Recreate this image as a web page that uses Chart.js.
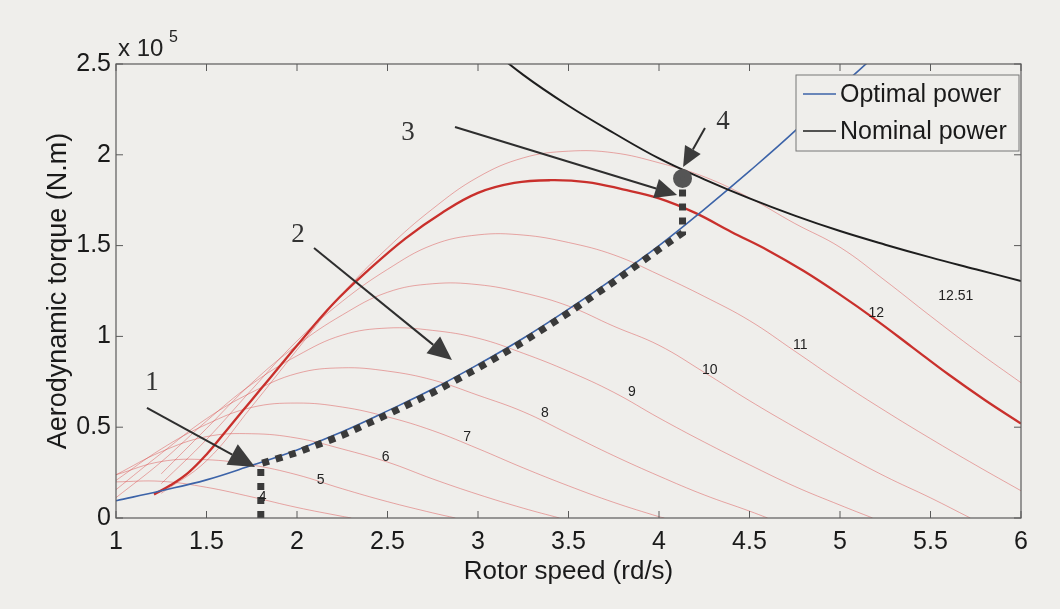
<!DOCTYPE html>
<html>
<head>
<meta charset="utf-8">
<title>Aerodynamic torque vs rotor speed</title>
<script src="https://cdn.jsdelivr.net/npm/chart.js@4.4.1/dist/chart.umd.min.js"></script>
<style>
    html, body { margin: 0; padding: 0; background: #efeeeb; }
    #wrap { width: 1060px; height: 609px; }
</style>
</head>
<body>
<div id="wrap"><canvas id="torqueChart" width="1060" height="609"></canvas></div>
<script>
// rotor speed grid (rd/s) shared by the wind speed curves
const speedGrid = [1, 1.25, 1.5, 1.75, 2, 2.25, 2.5, 2.75, 3, 3.25, 3.5, 3.75, 4, 4.25, 4.5, 4.75, 5, 5.25, 5.5, 5.75, 6];

// wind speed (m/s) of each thin curve
const windLabels = ['4', '5', '6', '7', '8', '9', '10', '11', '12.51'];

// aerodynamic torque (x 10^5 N.m) on speedGrid, null = no value
const torqueV4 = [0.199, 0.202, 0.169, 0.116, 0.058, 0.009, null, null, null, null, null, null, null, null, null, null, null, null, null, null, null];
const torqueV5 = [0.238, 0.311, 0.321, 0.292, 0.238, 0.161, 0.090, 0.028, null, null, null, null, null, null, null, null, null, null, null, null, null];
const torqueV6 = [0.238, 0.365, 0.448, 0.464, 0.440, 0.380, 0.308, 0.215, 0.130, 0.054, null, null, null, null, null, null, null, null, null, null, null];
const torqueV7 = [0.207, 0.380, 0.516, 0.609, 0.633, 0.611, 0.557, 0.481, 0.382, 0.276, 0.177, 0.086, 0.007, null, null, null, null, null, null, null, null];
const torqueV8 = [0.156, 0.356, 0.547, 0.692, 0.796, 0.827, 0.809, 0.760, 0.676, 0.585, 0.464, 0.343, 0.231, 0.127, 0.038, null, null, null, null, null, null];
const torqueV9 = [0.112, 0.309, 0.534, 0.737, 0.893, 1.007, 1.046, 1.033, 0.990, 0.907, 0.808, 0.692, 0.551, 0.418, 0.293, 0.174, 0.071, null, null, null, null];
const torqueV10 = [null, 0.243, 0.493, 0.743, 0.951, 1.118, 1.243, 1.290, 1.285, 1.240, 1.167, 1.056, 0.951, 0.802, 0.646, 0.500, 0.361, 0.229, 0.111, null, null];
const torqueV11 = [null, 0.189, 0.432, 0.707, 0.975, 1.193, 1.369, 1.504, 1.559, 1.558, 1.517, 1.449, 1.340, 1.220, 1.087, 0.919, 0.749, 0.589, 0.437, 0.291, 0.150];
const torqueV1251 = [null, 0.136, 0.315, 0.614, 0.926, 1.234, 1.487, 1.703, 1.877, 1.983, 2.020, 2.011, 1.956, 1.879, 1.763, 1.622, 1.491, 1.307, 1.112, 0.923, 0.745];

// speed where each thin curve reaches zero torque
const zeroCross = [2.3, 2.875, 3.45, 4.03, 4.6, 5.18, 5.72, null, null];

// thick curve (12 m/s)
const thickSpeed = [1.21, 1.3, 1.4, 1.5, 1.6, 1.7, 1.8, 1.9, 2, 2.2, 2.4, 2.6, 2.8, 3, 3.2, 3.4, 3.6, 3.8, 4, 4.2, 4.4, 4.6, 4.8, 5, 5.2, 5.4, 5.6, 5.8, 6];
const thickTorque = [0.13, 0.18, 0.25, 0.35, 0.47, 0.59, 0.71, 0.83, 0.95, 1.18, 1.37, 1.54, 1.68, 1.79, 1.845, 1.86, 1.85, 1.81, 1.76, 1.68, 1.575, 1.475, 1.36, 1.23, 1.09, 0.94, 0.79, 0.65, 0.52];

// optimal power curve on speedGrid
const optimalTorque = [0.095, 0.15, 0.21, 0.29, 0.375, 0.475, 0.59, 0.71, 0.845, 0.99, 1.15, 1.32, 1.50, 1.70, 1.91, 2.13, 2.37, 2.60, 2.86, 3.13, 3.40];

// nominal power curve
const nominalSpeed = [3, 3.25, 3.5, 3.75, 4, 4.25, 4.5, 4.75, 5, 5.25, 5.5, 5.75, 6];
const nominalTorque = [2.64, 2.44, 2.27, 2.12, 1.98, 1.865, 1.76, 1.665, 1.58, 1.505, 1.435, 1.37, 1.305];

// operating trajectory (dotted)
const pathSpeed = [1.8, 1.8, 2, 2.25, 2.5, 2.75, 3, 3.25, 3.5, 3.75, 4, 4.13, 4.13];
const pathTorque = [0, 0.30, 0.36, 0.455, 0.57, 0.69, 0.825, 0.97, 1.13, 1.30, 1.48, 1.57, 1.87];

// curve labels (wind speed) placed on the curves
const curveLabelText = ['4', '5', '6', '7', '8', '9', '10', '11', '12', '12.51'];
const curveLabelX = [1.81, 2.13, 2.49, 2.94, 3.37, 3.85, 4.28, 4.78, 5.2, 5.64];
const curveLabelY = [0.115, 0.21, 0.336, 0.446, 0.578, 0.694, 0.815, 0.953, 1.13, 1.22];

// numbered arrows
const arrowNotes = [
    { text: '1', lx: 1.199, ly: 0.743, x0: 1.171, y0: 0.606, x1: 1.768, y1: 0.281, head: 26 },
    { text: '2', lx: 2.006, ly: 1.558, x0: 2.094, y0: 1.487, x1: 2.856, y1: 0.870, head: 24 },
    { text: '3', lx: 2.613, ly: 2.120, x0: 2.873, y0: 2.153, x1: 4.100, y1: 1.779, head: 22 },
    { text: '4', lx: 4.354, ly: 2.180, x0: 4.254, y0: 2.148, x1: 4.133, y1: 1.933, head: 20 }
];

const sansFont = "'Liberation Sans', Arial, sans-serif";
const serifFont = "'Liberation Serif', 'Times New Roman', serif";

function toPoints(xs, ys) {
    return xs.map((x, i) => ({ x: x, y: ys[i] })).filter(p => p.y !== null);
}

const datasets = [];

// dotted operating path on top
datasets.push({
    label: 'path',
    data: toPoints(pathSpeed, pathTorque),
    borderColor: '#3a3a3a',
    borderWidth: 7,
    borderDash: [7, 7],
    borderCapStyle: 'butt',
    tension: 0,
    pointRadius: pathSpeed.map((s, i) => i === pathSpeed.length - 1 ? 6 : 0),
    pointBackgroundColor: '#555',
    pointBorderColor: '#555',
    order: 1
});

datasets.push({
    label: 'Nominal power',
    data: toPoints(nominalSpeed, nominalTorque),
    borderColor: '#1e1e1e',
    borderWidth: 2,
    pointRadius: 0,
    tension: 0.4,
    order: 2
});

datasets.push({
    label: 'Optimal power',
    data: toPoints(speedGrid, optimalTorque),
    borderColor: '#3c63a8',
    borderWidth: 1.6,
    pointRadius: 0,
    tension: 0.4,
    order: 3
});

datasets.push({
    label: '12',
    data: toPoints(thickSpeed, thickTorque),
    borderColor: '#c9302c',
    borderWidth: 2.3,
    pointRadius: 0,
    tension: 0.4,
    order: 4
});

const windCurves = [torqueV4, torqueV5, torqueV6, torqueV7, torqueV8, torqueV9, torqueV10, torqueV11, torqueV1251];
windCurves.forEach(function (vals, i) {
    const pts = toPoints(speedGrid, vals);
    if (zeroCross[i] !== null) pts.push({ x: zeroCross[i], y: 0 });
    datasets.push({
        label: windLabels[i],
        data: pts,
        borderColor: 'rgba(218, 70, 70, 0.45)',
        borderWidth: 1,
        pointRadius: 0,
        tension: 0.4,
        order: 5
    });
});

// paper background
const paperPlugin = {
    id: 'paper',
    beforeDraw(chart) {
        const c = chart.ctx;
        c.save();
        c.fillStyle = '#efeeeb';
        c.fillRect(0, 0, chart.width, chart.height);
        c.restore();
    }
};

// box and inward ticks like the original plot
const framePlugin = {
    id: 'frame',
    afterDatasetsDraw(chart) {
        const c = chart.ctx;
        const a = chart.chartArea;
        const xs = chart.scales.x;
        const ys = chart.scales.y;
        c.save();
        c.strokeStyle = '#5a5a5a';
        c.lineWidth = 1.2;
        c.strokeRect(a.left, a.top, a.right - a.left, a.bottom - a.top);
        c.lineWidth = 1;
        xs.ticks.forEach(t => {
            const px = xs.getPixelForValue(t.value);
            c.beginPath();
            c.moveTo(px, a.bottom); c.lineTo(px, a.bottom - 7);
            c.moveTo(px, a.top); c.lineTo(px, a.top + 7);
            c.stroke();
        });
        ys.ticks.forEach(t => {
            const py = ys.getPixelForValue(t.value);
            c.beginPath();
            c.moveTo(a.left, py); c.lineTo(a.left + 7, py);
            c.moveTo(a.right, py); c.lineTo(a.right - 7, py);
            c.stroke();
        });
        c.restore();
    }
};

// arrows, numbers, curve labels and the exponent
const notesPlugin = {
    id: 'notes',
    afterDraw(chart) {
        const c = chart.ctx;
        const xs = chart.scales.x;
        const ys = chart.scales.y;
        const a = chart.chartArea;
        c.save();

        // wind speed labels
        c.fillStyle = '#222';
        c.font = '14px ' + sansFont;
        c.textAlign = 'center';
        c.textBaseline = 'middle';
        curveLabelText.forEach((t, i) => {
            c.fillText(t, xs.getPixelForValue(curveLabelX[i]), ys.getPixelForValue(curveLabelY[i]));
        });

        // numbered arrows
        arrowNotes.forEach(n => {
            const x0 = xs.getPixelForValue(n.x0), y0 = ys.getPixelForValue(n.y0);
            const x1 = xs.getPixelForValue(n.x1), y1 = ys.getPixelForValue(n.y1);
            const ang = Math.atan2(y1 - y0, x1 - x0);
            const head = n.head, half = n.head * 0.45;
            const bx = x1 - head * Math.cos(ang), by = y1 - head * Math.sin(ang);
            c.strokeStyle = '#2e2e2e';
            c.lineWidth = 2;
            c.beginPath();
            c.moveTo(x0, y0);
            c.lineTo(bx, by);
            c.stroke();
            c.fillStyle = '#3c3c3c';
            c.beginPath();
            c.moveTo(x1, y1);
            c.lineTo(bx + half * Math.sin(ang), by - half * Math.cos(ang));
            c.lineTo(bx - half * Math.sin(ang), by + half * Math.cos(ang));
            c.closePath();
            c.fill();
            c.fillStyle = '#333';
            c.font = '27px ' + serifFont;
            c.fillText(n.text, xs.getPixelForValue(n.lx), ys.getPixelForValue(n.ly));
        });

        // x 10^5 multiplier
        c.fillStyle = '#222';
        c.textAlign = 'left';
        c.textBaseline = 'alphabetic';
        c.font = '24px ' + sansFont;
        c.fillText('x 10', a.left + 2, a.top - 8);
        c.font = '16px ' + sansFont;
        c.fillText('5', a.left + 53, a.top - 22);
        c.restore();
    }
};

// legend box inside the plot, top right
const legendPlugin = {
    id: 'boxLegend',
    afterDraw(chart) {
        const c = chart.ctx;
        const a = chart.chartArea;
        const left = a.right - 225, top = a.top + 11, w = 223, h = 76;
        c.save();
        c.fillStyle = '#efeeeb';
        c.fillRect(left, top, w, h);
        c.strokeStyle = '#777';
        c.lineWidth = 1;
        c.strokeRect(left, top, w, h);
        const items = [
            { text: 'Optimal power', color: '#3c63a8' },
            { text: 'Nominal power', color: '#1e1e1e' }
        ];
        c.font = '25px ' + sansFont;
        c.textAlign = 'left';
        c.textBaseline = 'middle';
        items.forEach((it, i) => {
            const y = top + 19 + i * 37;
            c.strokeStyle = it.color;
            c.lineWidth = 1.6;
            c.beginPath();
            c.moveTo(left + 7, y);
            c.lineTo(left + 40, y);
            c.stroke();
            c.fillStyle = '#1a1a1a';
            c.fillText(it.text, left + 44, y + 1);
        });
        c.restore();
    }
};

const ctx = document.getElementById('torqueChart').getContext('2d');
new Chart(ctx, {
    type: 'line',
    data: { datasets: datasets },
    options: {
        responsive: false,
        animation: false,
        devicePixelRatio: 1,
        layout: { padding: { left: 0, right: 39, top: 64, bottom: 0 } },
        plugins: {
            legend: { display: false },
            tooltip: { enabled: false }
        },
        scales: {
            x: {
                type: 'linear',
                min: 1,
                max: 6,
                grid: { display: false, drawTicks: false },
                border: { display: false },
                ticks: {
                    stepSize: 0.5,
                    padding: 9,
                    color: '#1a1a1a',
                    font: { family: sansFont, size: 25 },
                    callback: v => String(v)
                },
                title: {
                    display: true,
                    text: 'Rotor speed (rd/s)',
                    color: '#1a1a1a',
                    font: { family: sansFont, size: 26 },
                    padding: { top: 0, bottom: 22 }
                },
                afterFit(scale) { scale.height = 91; }
            },
            y: {
                type: 'linear',
                min: 0,
                max: 2.5,
                grid: { display: false, drawTicks: false },
                border: { display: false },
                ticks: {
                    stepSize: 0.5,
                    padding: 5,
                    color: '#1a1a1a',
                    font: { family: sansFont, size: 25 },
                    callback: v => String(v)
                },
                title: {
                    display: true,
                    text: 'Aerodynamic torque (N.m)',
                    color: '#1a1a1a',
                    font: { family: sansFont, size: 27 },
                    padding: { top: 42, bottom: 0 }
                },
                afterFit(scale) { scale.width = 116; }
            }
        }
    },
    plugins: [paperPlugin, framePlugin, notesPlugin, legendPlugin]
});
</script>
</body>
</html>
